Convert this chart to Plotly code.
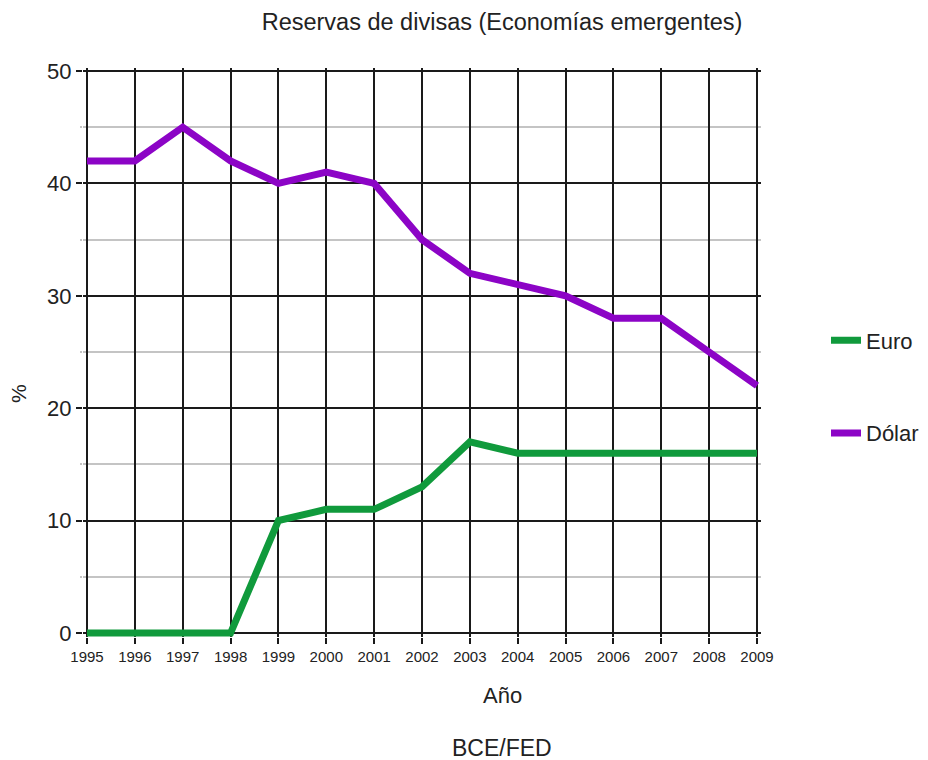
import plotly.graph_objects as go

years = list(range(1995, 2010))
euro = [0, 0, 0, 0, 10, 11, 11, 13, 17, 16, 16, 16, 16, 16, 16]
dolar = [42, 42, 45, 42, 40, 41, 40, 35, 32, 31, 30, 28, 28, 25, 22]

GREEN = "#109a3c"
PURPLE = "#8c04c6"
FONT = "Arial, Liberation Sans, sans-serif"
TXT = "#222222"

# Page geometry (the page body adds an 8px offset)
OFF = 8
W, H = 928 - OFF, 760 - OFF
X_FIRST, X_LAST = 87, 757      # page px of first/last year gridline
Y_ZERO, Y_TOP = 633, 71        # page px of y=0 and y=50
PADX, PADB, PADT = 4, 4, 3     # small range padding so thick lines are not clipped

ppx = (X_LAST - X_FIRST) / (years[-1] - years[0])
ppy = (Y_ZERO - Y_TOP) / 50.0
L, R = X_FIRST - PADX, X_LAST + PADX
T, B = Y_TOP - PADT, Y_ZERO + PADB
xr = [years[0] - PADX / ppx, years[-1] + PADX / ppx]
yr = [0 - PADB / ppy, 50 + PADT / ppy]


def px(x):
    return (x - L) / (R - L)


def py(y):
    return (B - y) / (B - T)


fig = go.Figure()
fig.add_trace(go.Scatter(x=years, y=euro, name="Euro", mode="lines",
                         line=dict(color=GREEN, width=7), legendgroup="e",
                         cliponaxis=False))
fig.add_trace(go.Scatter(x=years, y=dolar, name="Dólar", mode="lines",
                         line=dict(color=PURPLE, width=7), legendgroup="d",
                         cliponaxis=False))

fig.update_layout(
    width=W, height=H,
    margin=dict(l=L - OFF, r=W - (R - OFF), t=T - OFF, b=H - (B - OFF), pad=0,
                autoexpand=False),
    paper_bgcolor="white", plot_bgcolor="white",
    font=dict(family=FONT, color=TXT),
    showlegend=True,
    legend=dict(x=px(826), y=py(387), xanchor="left", yanchor="middle",
                font=dict(size=22, family=FONT, color=TXT),
                tracegroupgap=61, itemwidth=30,
                bgcolor="rgba(0,0,0,0)"),
    xaxis=dict(range=xr, tickmode="array", tickvals=years,
               ticktext=[str(y) for y in years],
               showgrid=True, gridcolor="#1a1a1a", gridwidth=1.6,
               ticks="outside", ticklen=6, tickcolor="#1a1a1a", tickwidth=1.6,
               tickfont=dict(size=15, family=FONT, color=TXT),
               zeroline=False, showline=False),
    yaxis=dict(range=yr, tickmode="array", tickvals=[0, 10, 20, 30, 40, 50],
               showgrid=True, gridcolor="#1a1a1a", gridwidth=1.6,
               ticks="outside", ticklen=6, tickcolor="#1a1a1a", tickwidth=1.6,
               tickfont=dict(size=22, family=FONT, color=TXT),
               zeroline=False, showline=False,
               minor=dict(tickmode="array", tickvals=[5, 15, 25, 35, 45],
                          showgrid=True, gridcolor="#c4c4c4",
                          gridwidth=1.5, ticks="outside", ticklen=2,
                          tickcolor="#c4c4c4")),
    title=dict(text="Reservas de divisas (Economías emergentes)",
               x=px(502), xref="paper", xanchor="center",
               y=1 - (22 - OFF) / H, yref="container", yanchor="middle",
               font=dict(size=23.5, family=FONT, color=TXT)),
    annotations=[
        dict(text="Año", x=px(502), y=py(695), xref="paper", yref="paper",
             showarrow=False, xanchor="center", yanchor="middle",
             font=dict(size=22, family=FONT, color=TXT)),
        dict(text="BCE/FED", x=px(502), y=py(748), xref="paper", yref="paper",
             showarrow=False, xanchor="center", yanchor="middle",
             font=dict(size=23, family=FONT, color=TXT)),
        dict(text="%", x=px(18), y=py(394), xref="paper", yref="paper",
             showarrow=False, xanchor="center", yanchor="middle", textangle=-90,
             font=dict(size=21, family=FONT, color=TXT)),
    ],
)

fig.write_html("out.html")
